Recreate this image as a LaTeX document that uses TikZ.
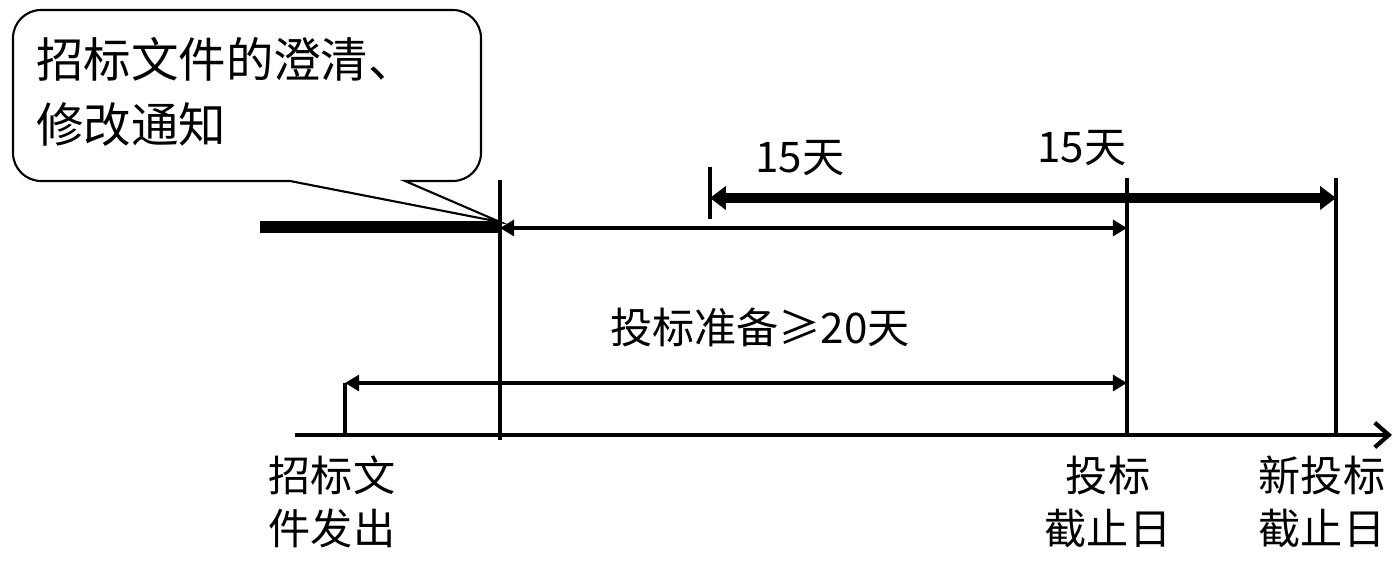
\documentclass[tikz,border=0pt]{standalone}
\usepackage{fontspec}
\newfontfamily\cjk{Noto Sans CJK SC}
\usetikzlibrary{arrows.meta}
\begin{document}
\begin{tikzpicture}[x=0.02cm,y=-0.02cm,
  lbl/.style={font=\cjk\fontsize{24}{30}\selectfont, inner sep=0pt, align=center},
  axisline/.style={line width=2.4pt},
  tick/.style={line width=2.4pt},
  thin/.style={line width=2.4pt, {Triangle[length=8pt,width=9pt]}-{Triangle[length=8pt,width=9pt]}},
  fat/.style={line width=5.5pt, {Triangle[length=9pt,width=13pt]}-{Triangle[length=9pt,width=13pt]}},
  callout/.style={line width=1.2pt, fill=white}]
\useasboundingbox (0,0) rectangle (1393,573);
% key coordinates
\coordinate (t1) at (500,180);
\coordinate (b1) at (500,440);
\coordinate (t2) at (1127,178);
\coordinate (b2) at (1127,435);
\coordinate (t3) at (1336,178);
\coordinate (b3) at (1336,435);
\coordinate (ax0) at (295,435);
\coordinate (ax1) at (1392,435);
\coordinate (s0) at (345,435);
\coordinate (s1) at (345,383);
\coordinate (s2) at (1127,383);
\coordinate (f0) at (260,227);
\coordinate (f1) at (500,227);
\coordinate (m0) at (500,228);
\coordinate (m1) at (1127,228);
\coordinate (k0) at (710,167);
\coordinate (k1) at (710,219);
\coordinate (h0) at (710,198);
\coordinate (h1) at (1336,198);
\coordinate (tip) at (500,222);
% callout
\draw[callout] (290,181) [rounded corners=16pt] -- (13,181) -- (13,10) -- (481,10) -- (481,181) [sharp corners] -- (405,181) -- (tip) -- cycle;
\node[lbl, font=\cjk\fontsize{27}{37}\selectfont, align=left, anchor=north west] (note) at (36,37) {招标文件的澄清、\\修改通知};
% lines
\draw[line width=6.5pt] (f0) -- (f1);
\draw[tick] (t1) -- (b1);
\draw[tick] (t2) -- (b2);
\draw[tick] (t3) -- (b3);
\draw[tick] (k0) -- (k1);
\draw[axisline, -{Straight Barb[length=8pt,width=14pt]}] (ax0) -- (ax1);
\draw[thin] (m0) -- (m1);
\draw[fat] (h0) -- (h1);
\draw[line width=2.4pt] (s0) -- (s1);
\draw[thin] (s1) -- (s2);
% labels
\node[lbl] (d1) at (800,158) {15天};
\node[lbl] (d2) at (1082,148) {15天};
\node[lbl] (prep) at (760,327) {投标准备≥20天};
\node[lbl] (l1) at (332,502) {招标文\\件发出};
\node[lbl] (l2) at (1108,502) {投标\\截止日};
\node[lbl] (l3) at (1322,502) {新投标\\截止日};
\end{tikzpicture}
\end{document}
